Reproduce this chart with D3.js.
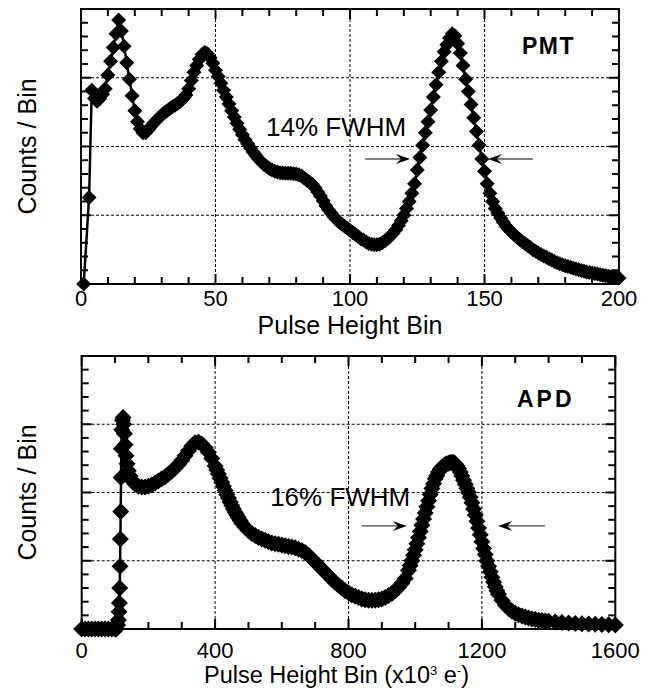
<!DOCTYPE html>
<html><head><meta charset="utf-8">
<script src="https://cdn.jsdelivr.net/npm/d3@7"></script>
<style>
body{margin:0;background:#fff;}
text{font-family:"Liberation Sans",Arial,Helvetica,sans-serif;fill:#000;}
</style>
</head><body><svg id="c" width="645" height="688"></svg>
<script>
// ---------- DATA ----------
// PMT spectrum (top panel): bin, counts (arbitrary units, 0-20 full scale)
const pmtBins = [1, 3].concat(d3.range(4, 201));
const pmtCounts = [0, 6.3,
 14.1,13.5,13.3,13.5,13.8,14.2,15.2,16.2,17.2,18.2,19.2,18.4,17.3,16.1,14.9,13.7,12.6,11.8,11.3,11.0,
 11.0,11.2,11.45,11.7,11.9,12.1,12.3,12.45,12.6,12.75,12.9,13.0,13.15,13.3,13.5,13.75,14.2,14.8,15.4,15.9,
 16.35,16.7,16.85,16.75,16.45,16.05,15.55,15.1,14.6,14.1,13.6,13.1,12.6,12.15,11.7,11.25,10.85,10.5,10.2,9.9,
 9.6,9.35,9.1,8.9,8.7,8.55,8.4,8.3,8.2,8.15,8.1,8.08,8.06,8.05,8.05,8.02,8.0,7.95,7.85,7.7,
 7.55,7.4,7.25,7.0,6.7,6.4,6.05,5.7,5.4,5.15,4.9,4.7,4.5,4.35,4.2,4.05,3.9,3.75,3.6,3.45,
 3.3,3.2,3.05,2.95,2.9,2.85,2.85,2.9,3.0,3.15,3.3,3.5,3.7,3.95,4.25,4.6,5.0,5.5,6.0,6.6,
 7.3,8.3,9.2,10.1,11.0,11.8,12.65,13.6,14.5,15.4,16.2,16.9,17.4,17.9,18.2,18.05,17.5,16.8,15.9,14.9,
 14.0,13.05,12.1,11.1,10.1,9.1,8.2,7.3,6.6,6.0,5.5,5.15,4.8,4.5,4.2,3.98,3.78,3.6,3.42,3.25,
 3.1,2.95,2.8,2.65,2.5,2.38,2.26,2.15,2.04,1.94,1.84,1.74,1.64,1.55,1.47,1.4,1.33,1.27,1.21,1.15,
 1.09,1.03,0.98,0.93,0.88,0.84,0.8,0.76,0.72,0.68,0.64,0.6,0.56,0.53,0.5,0.47,0.44];

// APD spectrum (bottom panel): pulse height (x10^3 e-), counts
const apdBins = [0,10,20,30,40,50,60,70,80,90,100,104,108,110,112,113,114,115,116,117,118,119,120,122,124,126,128,130,133,136,
 140,145,150,160,170,180,190,200,210,220,230,240,250,260,270,280,290,300,310,320,330,340,350,360,370,380,390,400,405,410,
 415,420,425,430,435,440,445,450,455,460,465,470,475,480,490,500,510,520,530,540,550,560,570,580,590,600,610,620,630,640,
 650,660,670,680,690,700,710,720,730,740,750,760,770,780,790,800,810,820,830,840,850,860,870,880,890,900,910,920,930,940,
 950,960,970,980,985,990,995,1000,1005,1010,1015,1020,1025,1030,1035,1040,1045,1050,1055,1060,1065,1070,1075,1080,1085,1090,1095,1100,1105,1110,
 1115,1120,1125,1130,1135,1140,1145,1150,1155,1160,1165,1170,1175,1180,1185,1190,1195,1200,1205,1210,1215,1220,1225,1230,1235,1240,1245,1250,1260,1270,
 1280,1290,1300,1310,1320,1330,1340,1350,1360,1370,1380,1390,1400,1420,1440,1460,1480,1500,1520,1540,1560,1580,1600];
const apdCounts = [0,0,0,0,0,0,0,0,0,0,0,0,0.3,0.66,1.27,1.9,3.0,4.6,6.6,8.6,11.1,13.2,14.6,15.3,15.5,15.0,14.3,13.5,12.7,12.1,
 11.6,11.2,10.9,10.6,10.45,10.4,10.4,10.45,10.55,10.7,10.85,11.0,11.15,11.35,11.55,11.8,12.05,12.35,12.7,13.05,13.4,13.65,13.7,13.55,13.3,12.95,12.5,11.95,11.65,11.35,
 11.05,10.75,10.45,10.15,9.85,9.6,9.3,9.05,8.8,8.55,8.35,8.15,7.95,7.75,7.45,7.2,7.0,6.85,6.7,6.6,6.5,6.4,6.3,6.25,6.2,6.15,6.1,6.05,6.0,5.95,
 5.85,5.75,5.6,5.4,5.15,4.9,4.65,4.4,4.15,3.9,3.65,3.4,3.2,3.0,2.8,2.65,2.5,2.4,2.3,2.2,2.15,2.1,2.1,2.1,2.15,2.2,2.3,2.45,2.6,2.8,
 3.05,3.35,3.7,4.3,4.65,5.0,5.4,5.8,6.25,6.7,7.15,7.6,8.05,8.5,8.95,9.4,9.85,10.3,10.65,11.0,11.25,11.5,11.7,11.85,11.95,12.05,12.1,12.15,12.2,12.2,
 12.2,12.1,11.95,11.75,11.5,11.2,10.9,10.6,10.3,10.0,9.65,9.25,8.8,8.35,7.9,7.4,6.9,6.4,5.9,5.45,5.0,4.6,4.2,3.8,3.45,3.1,2.8,2.55,2.1,1.75,
 1.5,1.3,1.15,1.05,0.95,0.87,0.8,0.74,0.69,0.65,0.62,0.59,0.56,0.51,0.47,0.44,0.41,0.39,0.37,0.35,0.33,0.31,0.3];

const pmtXTickLabels = [0, 50, 100, 150, 200];
const apdXTickLabels = [0, 400, 800, 1200, 1600];
const yGridValues = [5, 10, 15];

// ---------- LAYOUT ----------
const svg = d3.select("#c");

const diamond = {
  draw(ctx, size) {
    const r = Math.sqrt(size / 2);
    ctx.moveTo(0, -r); ctx.lineTo(r, 0); ctx.lineTo(0, r); ctx.lineTo(-r, 0); ctx.closePath();
  }
};

const panels = [
  { bins: pmtBins, counts: pmtCounts, xDomain: [0, 200], xRange: [81, 619], yRange: [284, 9],
    xMinor: 10, xLabels: pmtXTickLabels, tickLabelY: 306, titleY: 334, titleSize: 25, marker: 7.5,
    tag: "PMT", tagX: 522, tagY: 54, tagLs: 1.5,
    fwhm: "14% FWHM", fwhmX: 68.8, fwhmV: 10.75,
    arrowV: 9.09, arrowL: [105.6, 122.3], arrowR: [168, 151.3], arrowColor: "#000" },
  { bins: apdBins, counts: apdCounts, xDomain: [0, 1600], xRange: [81.7, 615.3], yRange: [629, 356],
    xMinor: 100, xLabels: apdXTickLabels, tickLabelY: 658, titleY: 683, titleSize: 23.5, marker: 8.5,
    tag: "APD", tagX: 517, tagY: 407, tagLs: 3,
    fwhm: "16% FWHM", fwhmX: 565, fwhmV: 9.0,
    arrowV: 7.55, arrowL: [839.6, 974.5], arrowR: [1389, 1249], arrowColor: "#444" }
];

panels.forEach((p, idx) => {
  const x = d3.scaleLinear().domain(p.xDomain).range(p.xRange);
  const y = d3.scaleLinear().domain([0, 20]).range(p.yRange);
  const g = svg.append("g");
  const [X0, X1] = p.xRange, [Y0, Y1] = p.yRange; // Y0 bottom, Y1 top

  // grid
  g.selectAll(".vg").data(p.xLabels.slice(1, -1)).join("line")
    .attr("x1", d => x(d)).attr("x2", d => x(d)).attr("y1", Y1).attr("y2", Y0)
    .attr("stroke", "#000").attr("stroke-width", 1).attr("stroke-dasharray", "3,2");
  g.selectAll(".hg").data(yGridValues).join("line")
    .attr("x1", X0).attr("x2", X1).attr("y1", d => y(d)).attr("y2", d => y(d))
    .attr("stroke", "#000").attr("stroke-width", 1).attr("stroke-dasharray", "3,2");

  // ticks
  const xt = d3.range(p.xDomain[0], p.xDomain[1] + 1e-9, p.xMinor);
  const isMajX = d => p.xLabels.includes(d);
  g.selectAll(".xtb").data(xt).join("line")
    .attr("x1", d => x(d)).attr("x2", d => x(d)).attr("y1", Y0).attr("y2", d => Y0 - (isMajX(d) ? 10 : 7))
    .attr("stroke", "#000").attr("stroke-width", 2);
  g.selectAll(".xtt").data(xt).join("line")
    .attr("x1", d => x(d)).attr("x2", d => x(d)).attr("y1", Y1).attr("y2", d => Y1 + (isMajX(d) ? 10 : 7))
    .attr("stroke", "#000").attr("stroke-width", 2);
  const yt = d3.range(0, 21, 1);
  g.selectAll(".ytl").data(yt).join("line")
    .attr("x1", X0).attr("x2", d => X0 + (d % 5 === 0 ? 10 : 7)).attr("y1", d => y(d)).attr("y2", d => y(d))
    .attr("stroke", "#000").attr("stroke-width", 2);
  g.selectAll(".ytr").data(yt).join("line")
    .attr("x1", X1).attr("x2", d => X1 - (d % 5 === 0 ? 10 : 7)).attr("y1", d => y(d)).attr("y2", d => y(d))
    .attr("stroke", "#000").attr("stroke-width", 2);

  // frame
  g.append("rect").attr("x", X0).attr("y", Y1).attr("width", X1 - X0).attr("height", Y0 - Y1)
    .attr("fill", "none").attr("stroke", "#000").attr("stroke-width", 2);

  // tick labels
  g.selectAll(".xl").data(p.xLabels).join("text")
    .attr("x", d => x(d)).attr("y", p.tickLabelY).attr("text-anchor", "middle")
    .attr("font-size", 22).text(d => d);

  // axis titles
  const t = g.append("text").attr("x", (X0 + X1) / 2).attr("y", p.titleY)
    .attr("text-anchor", "middle").attr("font-size", p.titleSize);
  if (idx === 0) {
    t.text("Pulse Height Bin");
  } else {
    t.attr("x", (X0 + X1) / 2 - 12);
    t.append("tspan").text("Pulse Height Bin (x10");
    t.append("tspan").attr("font-size", 13).attr("dy", -8).text("3");
    t.append("tspan").attr("dy", 8).text(" e");
    t.append("tspan").attr("font-size", 13).attr("dy", -8).text("-");
    t.append("tspan").attr("dy", 8).text(")");
  }
  g.append("text").attr("transform", `translate(36,${(Y0 + Y1) / 2}) rotate(-90)`)
    .attr("text-anchor", "middle").attr("font-size", 25).text("Counts / Bin");

  // data line + markers
  const pts = p.bins.map((b, i) => [b, p.counts[i]]);
  g.append("path").datum(pts)
    .attr("d", d3.line().x(d => x(d[0])).y(d => y(d[1])))
    .attr("fill", "none").attr("stroke", "#000").attr("stroke-width", 2.5);
  const sym = d3.symbol().type(diamond).size(2 * p.marker * p.marker);
  g.selectAll(".pt").data(pts).join("path")
    .attr("transform", d => `translate(${x(d[0])},${y(d[1])})`)
    .attr("d", sym).attr("fill", "#000");

  // annotations
  g.append("text").attr("x", p.tagX).attr("y", p.tagY).attr("font-size", 23)
    .attr("font-weight", "bold").attr("letter-spacing", p.tagLs).text(p.tag);
  g.append("text").attr("x", x(p.fwhmX)).attr("y", y(p.fwhmV)).attr("font-size", 26).text(p.fwhm);

  [p.arrowL, p.arrowR].forEach(a => {
    const xs = x(a[0]), xe = x(a[1]), yy = y(p.arrowV);
    const dir = xe > xs ? 1 : -1;
    g.append("line").attr("x1", xs).attr("x2", xe - dir * 6).attr("y1", yy).attr("y2", yy)
      .attr("stroke", p.arrowColor).attr("stroke-width", 1.2);
    g.append("path")
      .attr("d", `M${xe},${yy} L${xe - dir * 14},${yy - 5} L${xe - dir * 9},${yy} L${xe - dir * 14},${yy + 5} Z`)
      .attr("fill", "#000");
  });
});
</script>
</body></html>
